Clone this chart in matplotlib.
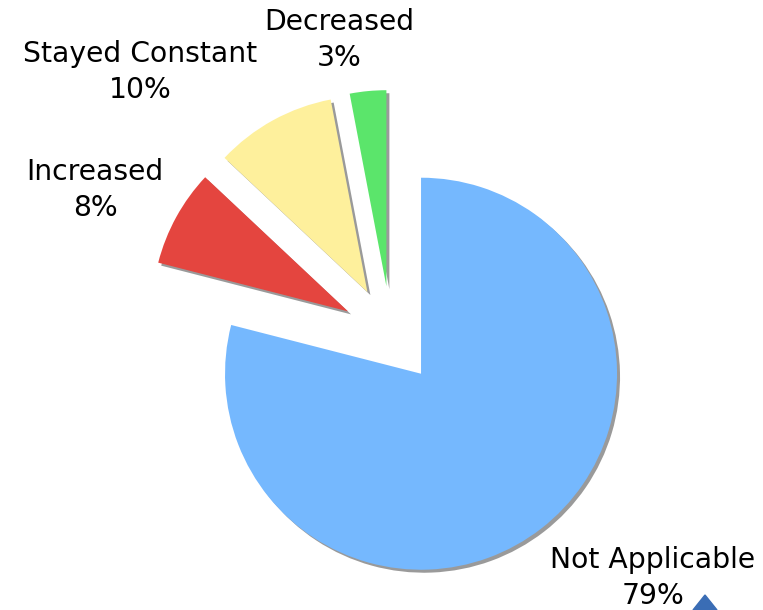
import matplotlib.pyplot as plt
from matplotlib.patches import Polygon

categories = ["Not Applicable", "Increased", "Stayed Constant", "Decreased"]
values = [79, 8, 10, 3]
colors = ["#75B8FE", "#E4453F", "#FEF09C", "#5BE56B"]

# label block centres (data units, pie radius = 1)
label_pos = [(1.337, -1.240), (-1.510, 0.740), (-1.281, 1.342), (-0.265, 1.505)]

W, H, DPI = 763, 610, 100
R_PX = 196.0          # pie radius in pixels
CX, CY = 391, 335     # pie centre in pixels (from top-left)

fig = plt.figure(figsize=(W / DPI, H / DPI), dpi=DPI)
ax = fig.add_axes([0, 0, 1, 1])

shadow_px = 3.0
sh = shadow_px / R_PX / (DPI / 72)
wedges, _ = ax.pie(values, colors=colors, startangle=90, counterclock=False,
                   explode=[0.25] * len(values), radius=1,
                   wedgeprops=dict(linewidth=0, zorder=2),
                   shadow=dict(ox=sh, oy=-sh, facecolor="#9a9a9a",
                               edgecolor="none", alpha=1, zorder=1))

for name, v, (x, y) in zip(categories, values, label_pos):
    ax.text(x, y, f"{name}\n{v}%", ha="center", va="center",
            fontsize=20.3, linespacing=1.33, color="black",
            family="DejaVu Sans")

ax.set_xlim(-CX / R_PX, (W - CX) / R_PX)
ax.set_ylim((CY - H) / R_PX, CY / R_PX)
ax.set_aspect("auto")
ax.axis("off")

# partial logo at bottom right corner
tri = Polygon([(693 / W, 0), (717 / W, 0), (705 / W, (H - 595) / H)],
              closed=True, transform=fig.transFigure, color="#3A6DB5")
fig.patches.append(tri)

fig.savefig("out.png", dpi=DPI, facecolor="white")
